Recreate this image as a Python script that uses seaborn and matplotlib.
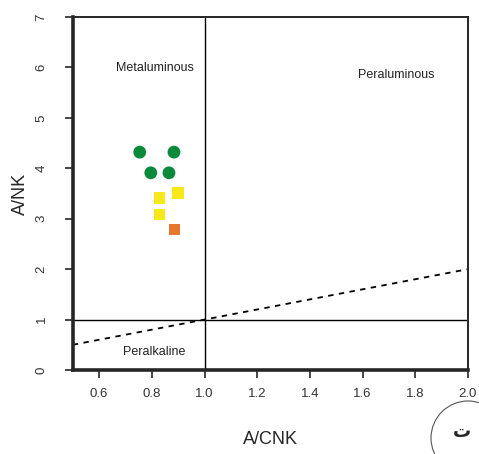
import matplotlib
matplotlib.use("Agg")
import matplotlib.pyplot as plt
import seaborn as sns
import pandas as pd
from matplotlib.patches import Circle

# Data
groups = ["circle"] * 4 + ["yellow"] * 3 + ["orange"]
acnk = [0.754, 0.884, 0.796, 0.865, 0.830, 0.899, 0.830, 0.887]
ank = [4.32, 4.32, 3.91, 3.91, 3.41, 3.51, 3.09, 2.78]
x_ticks = [0.6, 0.8, 1.0, 1.2, 1.4, 1.6, 1.8, 2.0]
y_ticks = [0, 1, 2, 3, 4, 5, 6, 7]
boundary_x = [0.5, 2.0]
boundary_y = [0.5, 2.0]

df = pd.DataFrame({"A/CNK": acnk, "A/NK": ank, "group": groups})

sns.set_style("ticks")
plt.rcParams["font.family"] = ["Liberation Sans", "DejaVu Sans"]

fig = plt.figure(figsize=(4.79, 4.54), dpi=100)
ax = fig.add_axes([0.152, 0.185, 0.825, 0.7776])

sns.scatterplot(data=df[df.group == "circle"], x="A/CNK", y="A/NK", ax=ax,
                color="#0b8a3b", marker="o", s=85, edgecolor="none", zorder=3)
sns.scatterplot(data=df[df.group == "yellow"], x="A/CNK", y="A/NK", ax=ax,
                color="#f7e81a", marker="s", s=65, edgecolor="none", zorder=3)
sns.scatterplot(data=df[df.group == "orange"], x="A/CNK", y="A/NK", ax=ax,
                color="#e8772e", marker="s", s=65, edgecolor="none", zorder=3)

ax.axvline(1.0, color="black", lw=1.0)
ax.axhline(1.0, color="black", lw=1.0)
ax.plot(boundary_x, boundary_y, color="black", lw=1.3, ls=(0, (3, 3)))

ax.set_xlim(0.5, 2.0)
ax.set_ylim(0, 7)
ax.set_xticks(x_ticks)
ax.set_xticklabels([f"{v:.1f}" for v in x_ticks], fontsize=9.5, color="#333333")
ax.set_yticks(y_ticks)
ax.set_yticklabels([str(v) for v in y_ticks], fontsize=9.5, rotation=90,
                   va="center", color="#333333")
ax.tick_params(axis="both", direction="out", length=6, width=1.2)
ax.tick_params(axis="x", pad=7)
ax.tick_params(axis="y", pad=12)

for side in ["left", "bottom"]:
    ax.spines[side].set_linewidth(2.6)
for side in ["top", "right"]:
    ax.spines[side].set_visible(True)
    ax.spines[side].set_linewidth(1.4)

ax.set_xlabel("A/CNK", fontsize=13, labelpad=22)
ax.set_ylabel("A/NK", fontsize=13, labelpad=5)

ax.text(0.81, 5.99, "Metaluminous", fontsize=9, ha="center", va="center", color="#222222")
ax.text(1.727, 5.85, "Peraluminous", fontsize=9, ha="center", va="center", color="#222222")
ax.text(0.81, 0.36, "Peralkaline", fontsize=9, ha="center", va="center", color="#222222")

# circled annotation at bottom right
circ = Circle((468, 454 - 438), 37, transform=None, fill=False,
              edgecolor="#555555", lw=0.8)
fig.patches.append(circ)
fig.text(462 / 479, 1 - 432 / 454, "ت", fontsize=13, fontweight="bold",
         ha="center", va="center", family=["DejaVu Sans"])

fig.savefig("out.png", dpi=100)
